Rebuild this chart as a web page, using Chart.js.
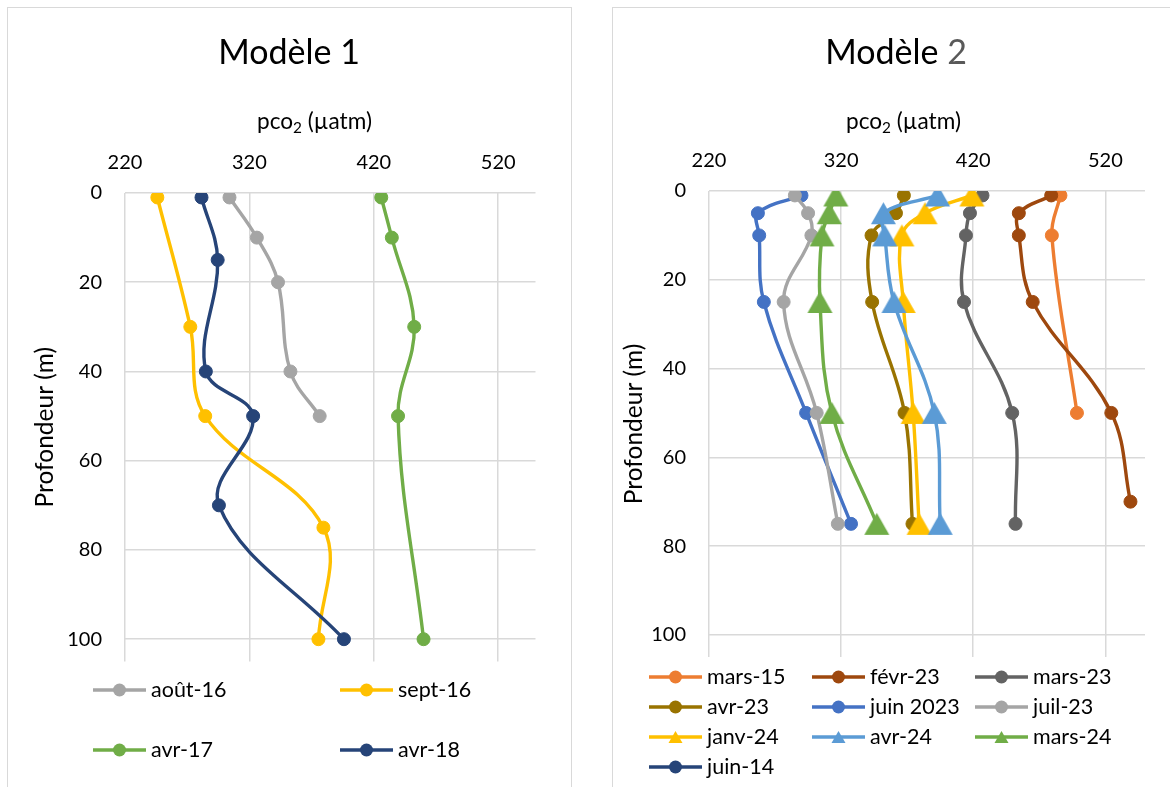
<!DOCTYPE html>
<html lang="fr">
<head>
<meta charset="utf-8">
<title>pCO2 – profils de profondeur</title>
<script src="https://cdn.jsdelivr.net/npm/chart.js@4.4.0/dist/chart.umd.min.js"></script>
<style>
  html, body { margin: 0; padding: 0; background: #fff; }
  body { width: 1170px; height: 787px; position: relative; overflow: hidden;
         font-family: Lato, "Open Sans", sans-serif; color: #000; }
  .panel { position: absolute; top: 7px; height: 800px; border: 1px solid #D9D9D9;
           box-sizing: border-box; background: #fff; }
  canvas { position: absolute; }
  .ctitle { position: absolute; font-size: 34px; line-height: 1.2; white-space: nowrap;
            transform: translateX(-50%); }
  .xtitle { position: absolute; font-size: 22.6px; line-height: 1.2; white-space: nowrap;
            transform: translateX(-50%); }
  .xtitle .sub { font-size: 0.68em; position: relative; top: 0.28em; }
  .leg { position: absolute; display: flex; align-items: center; height: 24px;
         font-size: 21.5px; line-height: 1.2; white-space: nowrap; }
  .leg svg { margin-right: 5px; flex: none; }
</style>
</head>
<body>
<div class="panel" id="p1" style="left:7px;width:565px;"></div>
<div class="panel" id="p2" style="left:612px;width:568px;"></div>
<canvas id="c1" width="563" height="779" style="left:8px;top:8px;"></canvas>
<canvas id="c2" width="566" height="779" style="left:613px;top:8px;"></canvas>

<div class="ctitle" style="left:289px;top:30.5px;">Modèle 1</div>
<div class="ctitle" style="left:896px;top:30.5px;">Modèle <span style="color:#595959">2</span></div>
<div class="xtitle" style="left:314.5px;top:106.5px;">pco<span class="sub">2</span> (µatm)</div>
<div class="xtitle" style="left:903.5px;top:106.5px;">pco<span class="sub">2</span> (µatm)</div>

<script>
// Shared axes: pCO2 along the top, depth increasing downwards
const xTickValues = [220, 320, 420, 520];
const yTickValues = [0, 20, 40, 60, 80, 100];
const xMin = 220, xMax = 550;
const yMin = 0, yMax = 105;

// ---------------- Modèle 1 ----------------
const m1Names = ['août-16', 'sept-16', 'avr-17', 'avr-18'];
const m1Colors = ['#A5A5A5', '#FFC000', '#70AD47', '#264478'];

const depthAout16 = [1, 10, 20, 40, 50];
const pco2Aout16  = [304, 326, 343, 353, 376.5];

const depthSept16 = [1, 30, 50, 75, 100];
const pco2Sept16  = [246, 272.5, 284.5, 379.5, 375.5];

const depthAvr17 = [1, 10, 30, 50, 100];
const pco2Avr17  = [426, 434.5, 452.5, 439.5, 460];

const depthAvr18 = [1, 15, 40, 50, 70, 100];
const pco2Avr18  = [281.5, 294.5, 285, 323, 295.5, 396];

const m1Depths = [depthAout16, depthSept16, depthAvr17, depthAvr18];
const m1Pco2   = [pco2Aout16, pco2Sept16, pco2Avr17, pco2Avr18];
const m1Marks  = ['circle', 'circle', 'circle', 'circle'];

// ---------------- Modèle 2 ----------------
const m2Names = ['mars-15', 'févr-23', 'mars-23', 'avr-23', 'juin 2023', 'juil-23',
                 'janv-24', 'avr-24', 'mars-24', 'juin-14'];
const m2Colors = ['#ED7D31', '#9E480E', '#636363', '#997300', '#4472C4', '#A5A5A5',
                  '#FFC000', '#5B9BD5', '#70AD47', '#264478'];

const depthMars15 = [1, 10, 50];
const pco2Mars15  = [486, 479.5, 498.5];

const depthFevr23 = [1, 5, 10, 25, 50, 70];
const pco2Fevr23  = [479, 454.5, 454.5, 465, 524.5, 539];

const depthMars23 = [1, 5, 10, 25, 50, 75];
const pco2Mars23  = [427, 417.5, 414.5, 413, 449.5, 452];

const depthAvr23 = [1, 5, 10, 25, 50, 75];
const pco2Avr23  = [367.5, 361.5, 343, 343.5, 368, 374];

const depthJuin2023 = [1, 5, 10, 25, 50, 75];
const pco2Juin2023  = [290, 257, 258, 261.5, 293.5, 327.5];

const depthJuil23 = [1, 5, 10, 25, 50, 75];
const pco2Juil23  = [285, 295, 297.5, 276.5, 301.5, 317.5];

const depthJanv24 = [1, 5, 10, 25, 50, 75];
const pco2Janv24  = [419, 383.5, 366, 367, 374.5, 379];

const depthAvr24 = [1, 5, 10, 25, 50, 75];
const pco2Avr24  = [393, 352, 353, 360, 390.5, 395];

const depthMars24 = [1, 5, 10, 25, 50, 75];
const pco2Mars24  = [316, 311, 305.5, 304, 313, 347];

const depthJuin14 = [];
const pco2Juin14  = [];

const m2Depths = [depthMars15, depthFevr23, depthMars23, depthAvr23, depthJuin2023,
                  depthJuil23, depthJanv24, depthAvr24, depthMars24, depthJuin14];
const m2Pco2   = [pco2Mars15, pco2Fevr23, pco2Mars23, pco2Avr23, pco2Juin2023,
                  pco2Juil23, pco2Janv24, pco2Avr24, pco2Mars24, pco2Juin14];
const m2Marks  = ['circle', 'circle', 'circle', 'circle', 'circle', 'circle',
                  'triangle', 'triangle', 'triangle', 'circle'];

// ---------------- styling ----------------
const LINE_W = 3.4;
const DOT_R = 6.5;
const TRI_W = 25, TRI_H = 22;
const GRID = '#D9D9D9';
const FONT = 'Lato, "Open Sans", sans-serif';

// Triangle marker centred on its bounding box
function triangleSprite(color, w, h) {
  const c = document.createElement('canvas');
  c.width = w + 2; c.height = h + 2;
  const g = c.getContext('2d');
  g.beginPath();
  g.moveTo(c.width / 2, 1);
  g.lineTo(w + 1, h + 1);
  g.lineTo(1, h + 1);
  g.closePath();
  g.fillStyle = color; g.fill();
  return c;
}

function buildDatasets(names, colors, depths, pco2, marks) {
  return names.map((name, i) => {
    const tri = marks[i] === 'triangle';
    return {
      label: name,
      data: depths[i].map((d, k) => ({ x: pco2[i][k], y: d })),
      showLine: true,
      tension: 0.38,
      borderColor: colors[i],
      backgroundColor: colors[i],
      borderWidth: LINE_W,
      pointStyle: tri ? triangleSprite(colors[i], TRI_W, TRI_H) : 'circle',
      pointRadius: DOT_R,
      pointBackgroundColor: colors[i],
      pointBorderColor: colors[i],
      pointBorderWidth: 1,
      pointHoverRadius: DOT_R,
      order: -i
    };
  });
}

function buildChart(canvasId, datasets, geo) {
  return new Chart(document.getElementById(canvasId), {
    type: 'scatter',
    data: { datasets },
    options: {
      responsive: false,
      animation: false,
      events: [],
      layout: { padding: { left: 0, top: 0, right: geo.padRight, bottom: geo.padBottom } },
      plugins: { legend: { display: false }, tooltip: { enabled: false } },
      scales: {
        x: {
          type: 'linear', position: 'top', min: xMin, max: xMax,
          afterBuildTicks: s => { s.ticks = xTickValues.map(v => ({ value: v })); },
          afterFit: s => { s.height = geo.xHeight; },
          grid: { color: GRID, lineWidth: 1.5, drawTicks: false },
          border: { display: false },
          ticks: { padding: 18, autoSkip: false, maxRotation: 0, color: '#000',
                   font: { family: FONT, size: 20 } }
        },
        y: {
          type: 'linear', reverse: true, min: yMin, max: yMax,
          afterBuildTicks: s => { s.ticks = yTickValues.map(v => ({ value: v })); },
          afterFit: s => { s.width = geo.yWidth; },
          grid: { color: GRID, lineWidth: 1.5, drawTicks: false },
          border: { display: false },
          title: { display: true, text: 'Profondeur (m)', color: '#000',
                   font: { family: FONT, size: 24.5 }, padding: { top: geo.yTitlePad, bottom: 0 } },
          ticks: { padding: 23, autoSkip: false, color: '#000',
                   font: { family: FONT, size: 20 } }
        }
      }
    }
  });
}

buildChart('c1', buildDatasets(m1Names, m1Colors, m1Depths, m1Pco2, m1Marks),
  { padRight: 35.5, padBottom: 125.5, xHeight: 185, yWidth: 117, yTitlePad: 22.3 });
buildChart('c2', buildDatasets(m2Names, m2Colors, m2Depths, m2Pco2, m2Marks),
  { padRight: 34, padBottom: 130, xHeight: 183, yWidth: 96, yTitlePad: 6.3 });

// ---------------- legends ----------------
function legendSymbol(color, mark) {
  const ns = 'http://www.w3.org/2000/svg';
  const svg = document.createElementNS(ns, 'svg');
  svg.setAttribute('width', '53'); svg.setAttribute('height', '16');
  const line = document.createElementNS(ns, 'line');
  line.setAttribute('x1', '0'); line.setAttribute('x2', '53');
  line.setAttribute('y1', '8'); line.setAttribute('y2', '8');
  line.setAttribute('stroke', color); line.setAttribute('stroke-width', LINE_W);
  svg.appendChild(line);
  if (mark === 'triangle') {
    const p = document.createElementNS(ns, 'polygon');
    p.setAttribute('points', '26.5,2 33.5,14 19.5,14');
    p.setAttribute('fill', color);
    svg.appendChild(p);
  } else {
    const c = document.createElementNS(ns, 'circle');
    c.setAttribute('cx', '26.5'); c.setAttribute('cy', '8'); c.setAttribute('r', DOT_R);
    c.setAttribute('fill', color);
    svg.appendChild(c);
  }
  return svg;
}

function buildLegend(names, colors, marks, cols, rowTop, rowStep) {
  names.forEach((name, i) => {
    const col = i % cols.length, row = Math.floor(i / cols.length);
    const item = document.createElement('div');
    item.className = 'leg';
    item.style.left = cols[col] + 'px';
    item.style.top = (rowTop + row * rowStep - 12) + 'px';
    item.appendChild(legendSymbol(colors[i], marks[i]));
    const span = document.createElement('span');
    span.textContent = name;
    item.appendChild(span);
    document.body.appendChild(item);
  });
}

buildLegend(m1Names, m1Colors, m1Marks, [93, 340], 690, 60);
buildLegend(m2Names, m2Colors, m2Marks, [649, 812, 975], 677, 30);
</script>
</body>
</html>
